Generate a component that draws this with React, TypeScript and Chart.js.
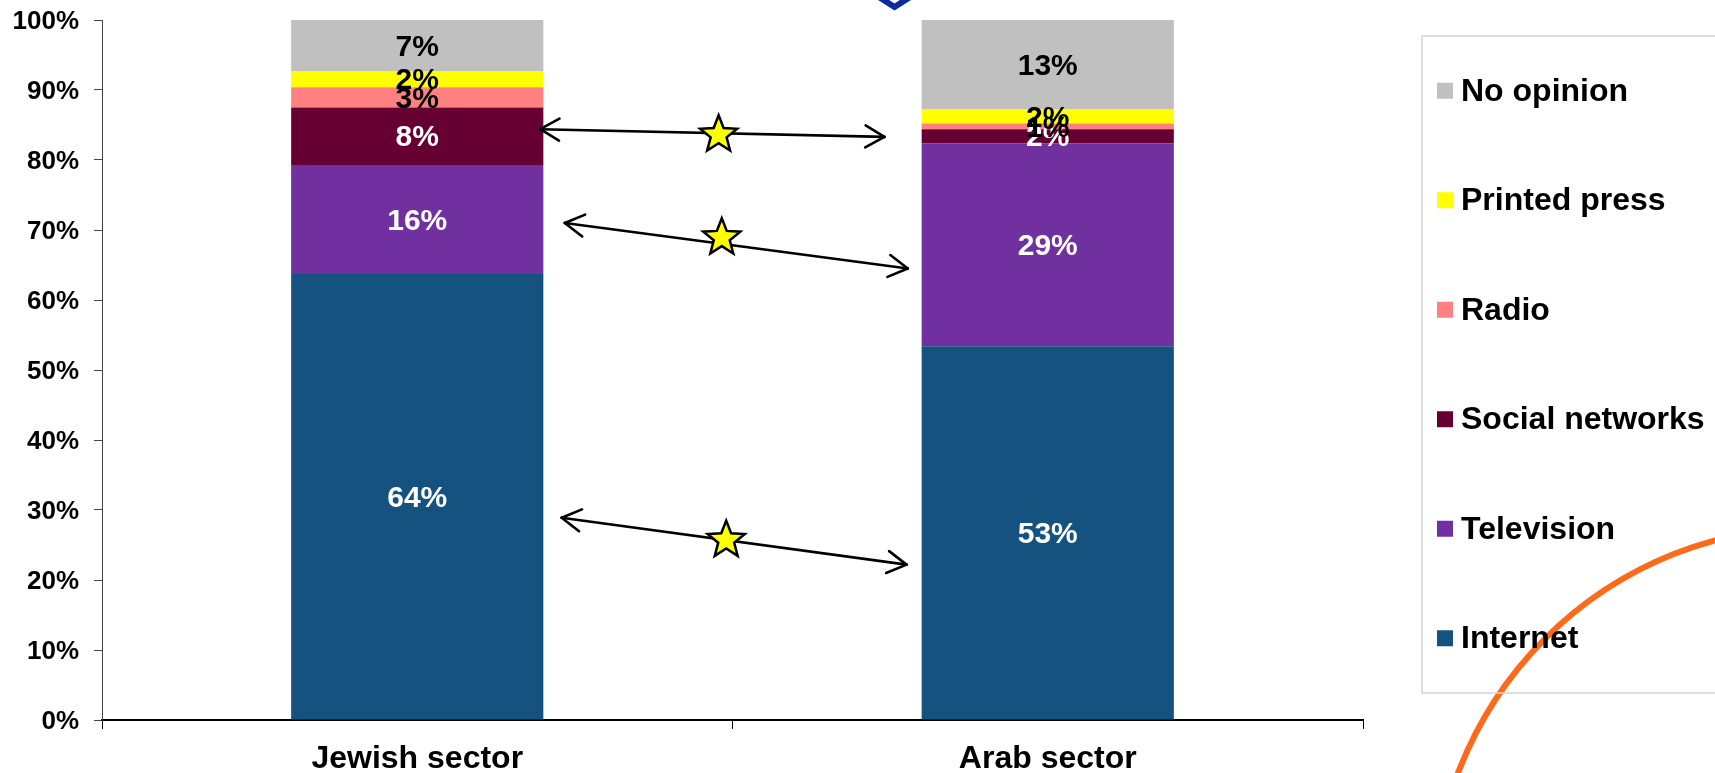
import React, { useEffect, useRef } from 'react';
import { Chart, registerables } from 'chart.js';

Chart.register(...registerables);

// ---- Data ----
const categories = ['Jewish sector', 'Arab sector'];
const seriesNames = ['Internet', 'Television', 'Social networks', 'Radio', 'Printed press', 'No opinion'];
const internet = [63.7, 53.4];
const television = [15.6, 29.0];
const socialNetworks = [8.2, 2.0];
const radio = [2.9, 0.8];
const printedPress = [2.3, 2.0];
const noOpinion = [7.3, 12.8];
const seriesValues = [internet, television, socialNetworks, radio, printedPress, noOpinion];

const seriesColors = ['#15527F', '#7030A0', '#660033', '#FF8080', '#FFFF00', '#C0C0C0'];
const labelColors = ['#FFFFFF', '#FFFFFF', '#FFFFFF', '#000000', '#000000', '#000000'];

const yMin = 0;
const yMax = 100;
const yStep = 10;

// Comparison arrows (category-index position, percent value)
const arrowFromX = [0.195, 0.234, 0.229];
const arrowFromY = [84.4, 71.0, 28.9];
const arrowToX = [0.741, 0.778, 0.776];
const arrowToY = [83.3, 64.5, 22.2];
const starX = [0.478, 0.483, 0.49];
const starY = [83.6, 68.9, 25.7];

const FONT = '"Liberation Sans", Arial, Helvetica, sans-serif';

const segLabelsPlugin = {
  id: 'segLabels',
  afterDatasetsDraw(chart: any) {
    const ctx = chart.ctx;
    ctx.save();
    ctx.font = `bold 30px ${FONT}`;
    ctx.textAlign = 'center';
    ctx.textBaseline = 'middle';
    chart.data.datasets.forEach((ds: any, i: number) => {
      const meta = chart.getDatasetMeta(i);
      meta.data.forEach((el: any, j: number) => {
        const v = ds.data[j];
        const p = el.getProps(['x', 'y', 'base'], true);
        ctx.fillStyle = labelColors[i];
        ctx.fillText(Math.round(v) + '%', p.x, (p.y + p.base) / 2 + 2);
      });
    });
    ctx.restore();
  },
};

function drawHead(ctx: CanvasRenderingContext2D, px: number, py: number, fx: number, fy: number) {
  const dx = px - fx;
  const dy = py - fy;
  const len = Math.hypot(dx, dy);
  const ux = dx / len;
  const uy = dy / len;
  const L = 22;
  const a = (30 * Math.PI) / 180;
  for (const s of [-1, 1]) {
    const cs = Math.cos(s * a);
    const sn = Math.sin(s * a);
    const rx = ux * cs - uy * sn;
    const ry = ux * sn + uy * cs;
    ctx.beginPath();
    ctx.moveTo(px, py);
    ctx.lineTo(px - rx * L, py - ry * L);
    ctx.stroke();
  }
}

function drawStar(ctx: CanvasRenderingContext2D, cx: number, cy: number, R: number) {
  const r = R * 0.43;
  ctx.beginPath();
  for (let k = 0; k < 10; k++) {
    const ang = -Math.PI / 2 + (k * Math.PI) / 5;
    const rad = k % 2 === 0 ? R : r;
    const px = cx + rad * Math.cos(ang);
    const py = cy + rad * Math.sin(ang);
    if (k === 0) ctx.moveTo(px, py);
    else ctx.lineTo(px, py);
  }
  ctx.closePath();
  ctx.fillStyle = '#FFFF00';
  ctx.fill();
  ctx.lineWidth = 2.5;
  ctx.lineJoin = 'miter';
  ctx.strokeStyle = '#000000';
  ctx.stroke();
}

const decoPlugin = {
  id: 'deco',
  afterDraw(chart: any) {
    const ctx: CanvasRenderingContext2D = chart.ctx;
    const xs = chart.scales.x;
    const ys = chart.scales.y;
    const W = chart.width;
    const H = chart.height;
    ctx.save();

    // arrows
    ctx.strokeStyle = '#000000';
    ctx.lineWidth = 2.6;
    ctx.lineCap = 'round';
    for (let i = 0; i < arrowFromX.length; i++) {
      const x1 = xs.getPixelForValue(arrowFromX[i]);
      const y1 = ys.getPixelForValue(arrowFromY[i]);
      const x2 = xs.getPixelForValue(arrowToX[i]);
      const y2 = ys.getPixelForValue(arrowToY[i]);
      ctx.beginPath();
      ctx.moveTo(x1, y1);
      ctx.lineTo(x2, y2);
      ctx.stroke();
      drawHead(ctx, x1, y1, x2, y2);
      drawHead(ctx, x2, y2, x1, y1);
    }
    for (let i = 0; i < starX.length; i++) {
      drawStar(ctx, xs.getPixelForValue(starX[i]), ys.getPixelForValue(starY[i]), 19.5);
    }

    // blue diamond (slide decoration, partly off-canvas)
    const dcx = xs.getPixelForValue(0.757);
    ctx.beginPath();
    ctx.moveTo(dcx, 7);
    ctx.lineTo(dcx - 50, -25);
    ctx.lineTo(dcx, -57);
    ctx.lineTo(dcx + 50, -25);
    ctx.closePath();
    ctx.lineWidth = 6;
    ctx.lineJoin = 'miter';
    ctx.strokeStyle = '#0B2C9C';
    ctx.stroke();

    // orange arc (slide decoration)
    ctx.beginPath();
    ctx.arc(W + 100, H + 136, 382, 0, Math.PI * 2);
    ctx.lineWidth = 6;
    ctx.strokeStyle = '#FF6A1A';
    ctx.stroke();

    // legend
    const lx = chart.chartArea.right + 59;
    const ly = 36;
    const lh = 657;
    ctx.lineWidth = 1.5;
    ctx.strokeStyle = '#D4D4D4';
    ctx.strokeRect(lx, ly, 400, lh);
    const n = chart.data.datasets.length;
    const step = lh / n;
    ctx.font = `bold 32px ${FONT}`;
    ctx.textAlign = 'left';
    ctx.textBaseline = 'middle';
    for (let k = 0; k < n; k++) {
      const di = n - 1 - k;
      const cy = ly + step * (k + 0.5);
      ctx.fillStyle = seriesColors[di];
      ctx.fillRect(lx + 15, cy - 8, 16, 16);
      ctx.fillStyle = '#000000';
      ctx.fillText(chart.data.datasets[di].label, lx + 39, cy + 1);
    }
    ctx.restore();
  },
};

export default function App() {
  const canvasRef = useRef<HTMLCanvasElement | null>(null);

  useEffect(() => {
    document.body.style.margin = '0';
    const canvas = canvasRef.current;
    if (!canvas) return;
    const chart = new Chart(canvas, {
      type: 'bar',
      data: {
        labels: categories,
        datasets: seriesNames.map((name, i) => ({
          label: name,
          data: seriesValues[i],
          backgroundColor: seriesColors[i],
          borderWidth: 0,
          categoryPercentage: 1,
          barPercentage: 0.4,
        })),
      },
      options: {
        animation: false,
        responsive: true,
        maintainAspectRatio: false,
        devicePixelRatio: 1,
        layout: { padding: { top: 20, right: 352, left: 0, bottom: 0 } },
        plugins: {
          legend: { display: false },
          tooltip: { enabled: false },
          title: { display: false },
        },
        scales: {
          x: {
            stacked: true,
            grid: {
              drawOnChartArea: false,
              drawTicks: true,
              tickLength: 9,
              color: '#000000',
              lineWidth: 1,
            },
            border: { display: true, color: '#000000', width: 2 },
            ticks: {
              color: '#000000',
              font: { family: FONT, size: 32, weight: 'bold' },
              padding: 11,
              maxRotation: 0,
            },
            afterFit: (scale: any) => {
              scale.height = 53;
              scale.paddingLeft = 0;
              scale.paddingRight = 0;
            },
          },
          y: {
            stacked: true,
            min: yMin,
            max: yMax,
            grid: {
              drawOnChartArea: false,
              drawTicks: true,
              tickLength: 8,
              color: '#444444',
              lineWidth: 1,
            },
            border: { display: true, color: '#444444', width: 1 },
            ticks: {
              stepSize: yStep,
              color: '#000000',
              font: { family: FONT, size: 26, weight: 'bold' },
              padding: 15,
              labelOffset: 2,
              callback: (v: any) => v + '%',
            },
            afterFit: (scale: any) => {
              scale.width = 102;
              scale.paddingTop = 0;
              scale.paddingBottom = 0;
            },
          },
        },
      } as any,
      plugins: [segLabelsPlugin, decoPlugin],
    });
    return () => chart.destroy();
  }, []);

  return (
    <div style={{ position: 'relative', width: '1715px', height: '773px', background: '#FFFFFF' }}>
      <canvas ref={canvasRef} />
    </div>
  );
}
